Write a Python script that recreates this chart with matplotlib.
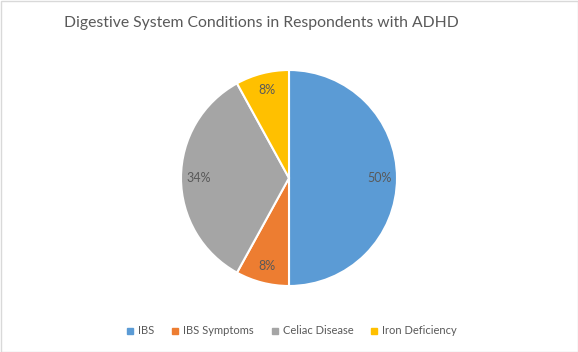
import matplotlib
matplotlib.use("Agg")
import matplotlib.pyplot as plt
from matplotlib.lines import Line2D
from matplotlib.patches import Rectangle

categories = ["IBS", "IBS Symptoms", "Celiac Disease", "Iron Deficiency"]
values = [50, 8, 34, 8]
colors = ["#5B9BD5", "#ED7D31", "#A5A5A5", "#FFC000"]
title = "Digestive System Conditions in Respondents with ADHD"

plt.rcParams['font.family'] = ['Lato', 'DejaVu Sans']
txt = "#595959"

W, H = 578, 352
fig = plt.figure(figsize=(W / 100, H / 100), dpi=100)
fig.patch.set_facecolor("white")

cx, cy, r = 289, 178, 108
ax = fig.add_axes([(cx - r) / W, (H - cy - r) / H, 2 * r / W, 2 * r / H])
wedges, texts, autotexts = ax.pie(
    values, colors=colors, startangle=90, counterclock=False,
    autopct=lambda p: f"{p:.0f}%", pctdistance=0.84,
    wedgeprops=dict(edgecolor="white", linewidth=1.5),
    textprops=dict(color=txt, fontsize=9))
ax.set_xlim(-1, 1)
ax.set_ylim(-1, 1)
ax.set_aspect("equal")
ax.axis("off")

fig.text(261 / W, 1 - 23 / H, title, ha="center", va="center",
         fontsize=11.3, color=txt)

handles = [Line2D([], [], marker="s", linestyle="", markersize=4,
                  markerfacecolor=c, markeredgecolor=c) for c in colors]
fig.legend(handles, categories, loc="center", bbox_to_anchor=(292 / W, 1 - 331 / H),
           ncol=4, frameon=False, fontsize=8, labelcolor=txt,
           handlelength=0.6, handletextpad=0.4, columnspacing=1.6)

fig.add_artist(Rectangle((0.5 / W, 0.5 / H), 1 - 1 / W, 1 - 1 / H,
                         transform=fig.transFigure, fill=False,
                         edgecolor="#D9D9D9", linewidth=1))

fig.savefig("out.png", dpi=100)
